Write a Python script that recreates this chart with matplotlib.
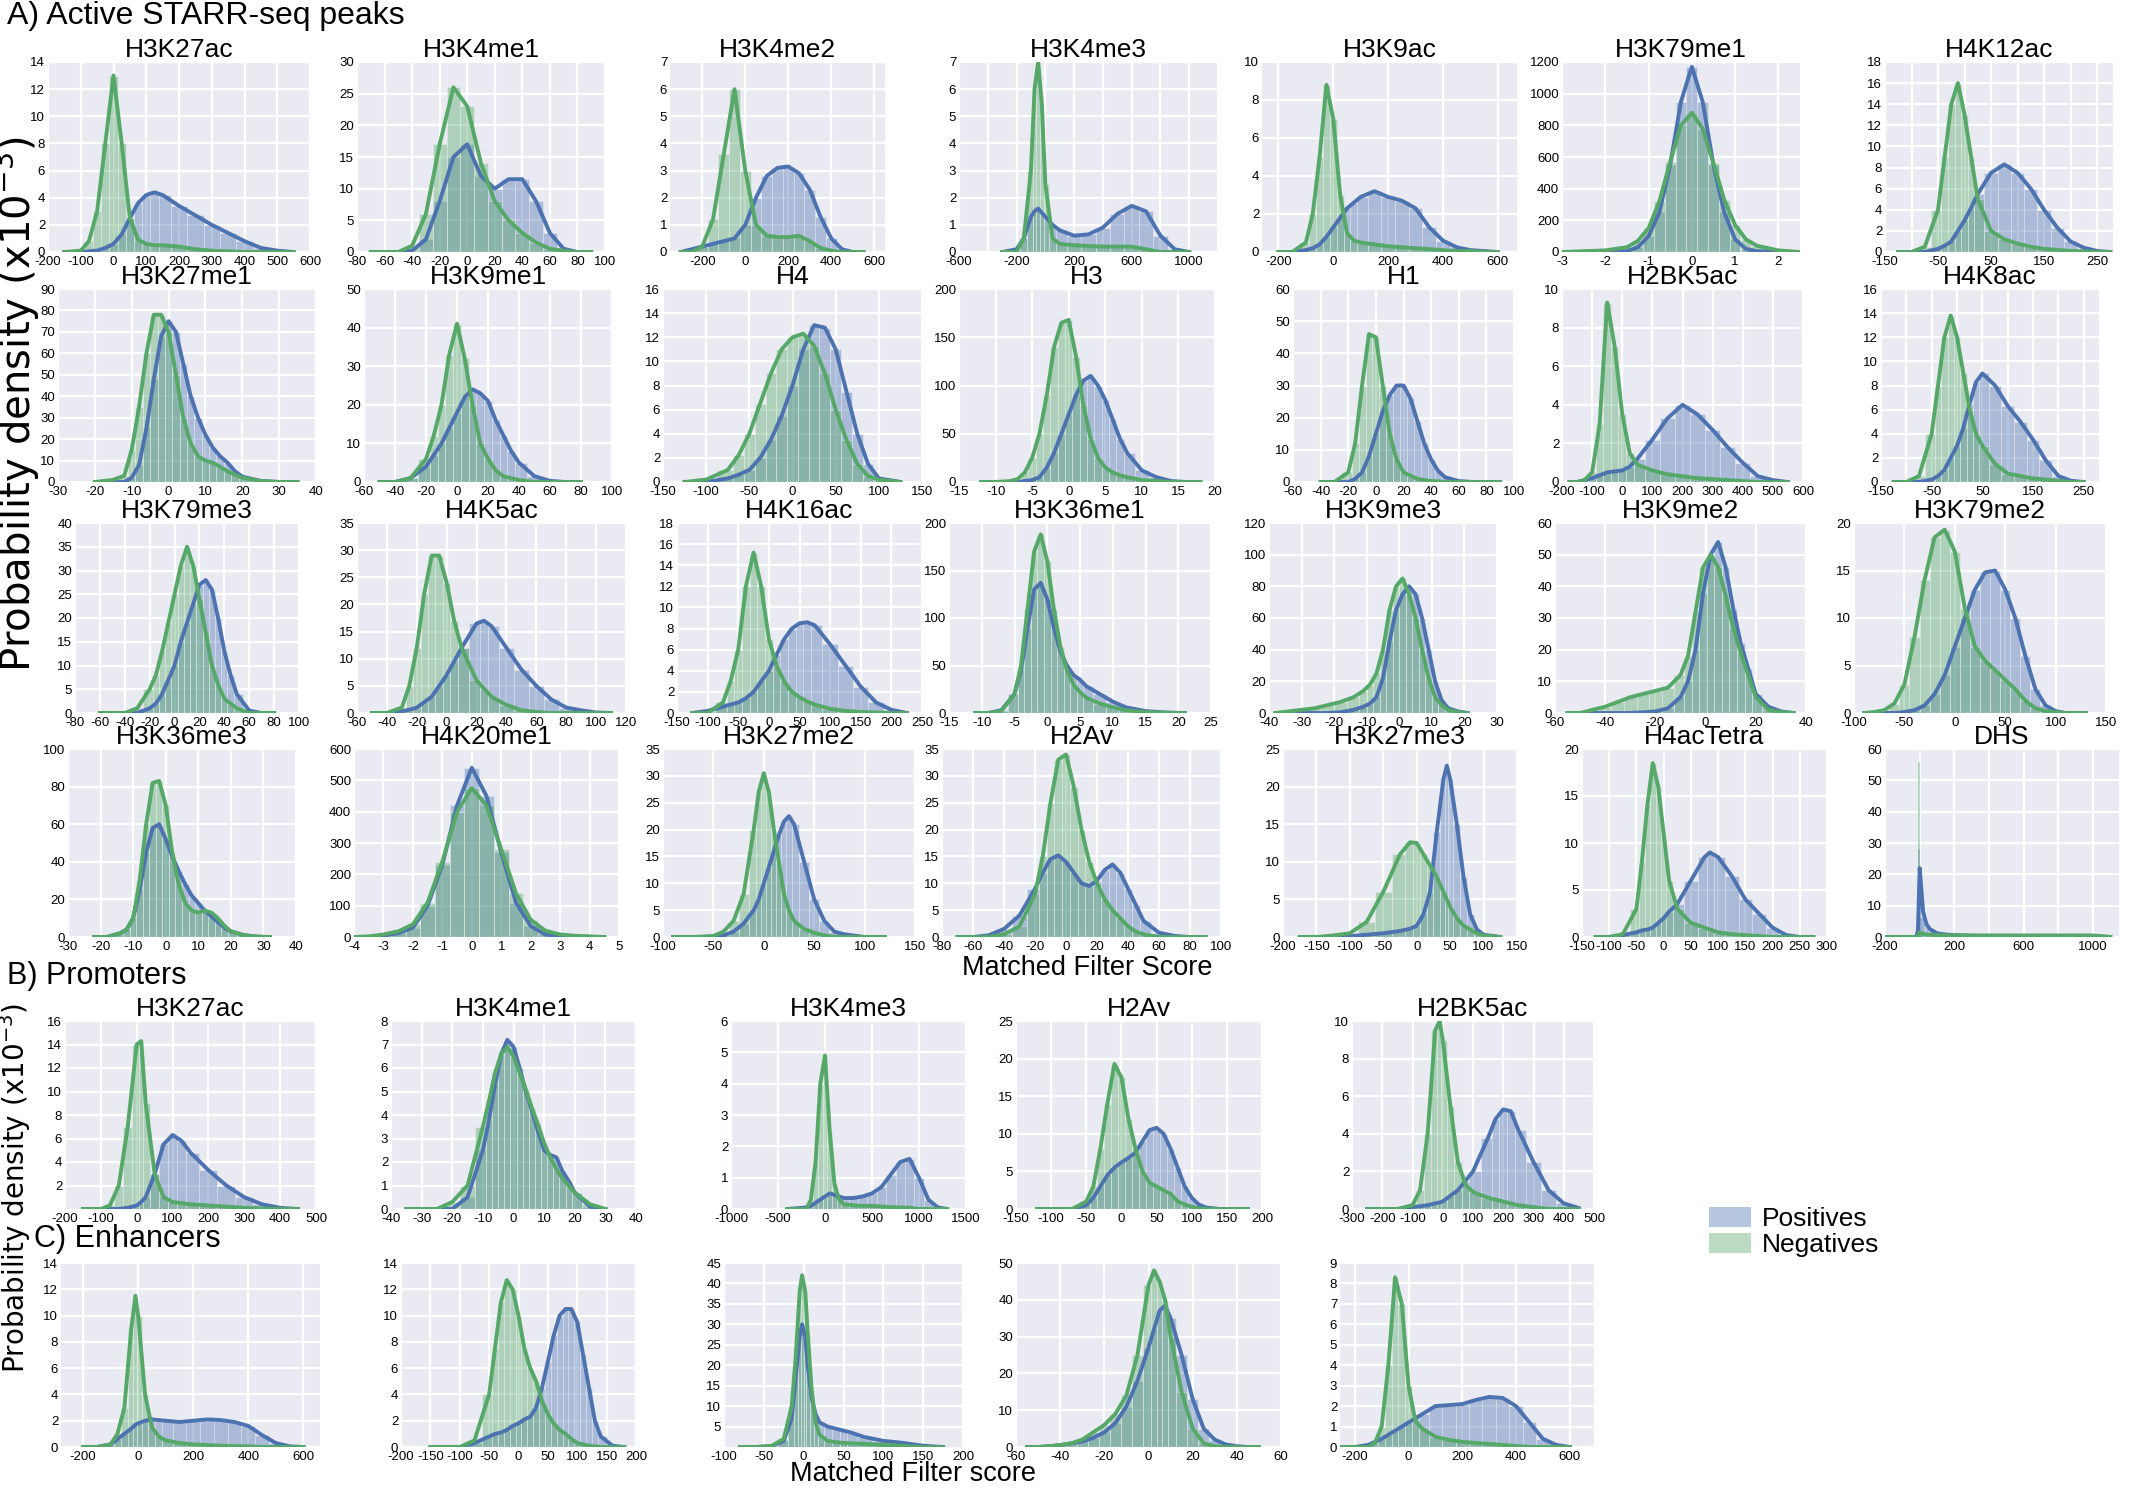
import numpy as np
import matplotlib.pyplot as plt
from matplotlib.patches import Patch

plt.rcParams['font.family'] = ['Liberation Sans Narrow', 'Liberation Sans', 'DejaVu Sans']

BLUE = '#4C72B0'
GREEN = '#55A868'
BG = '#EAEAF2'

# ---------------- A) Active STARR-seq peaks ----------------
h3k27ac_x = [-150, -100, -75, -50, -25, 0, 25, 50, 75, 100, 125, 150, 200, 250, 300, 350, 400, 450, 500, 550]
h3k27ac_pos = [0, 0, 0.05, 0.1, 0.3, 0.6, 1.3, 2.5, 3.6, 4.2, 4.4, 4.2, 3.4, 2.7, 2.0, 1.4, 0.8, 0.3, 0.1, 0]
h3k27ac_neg = [0, 0.1, 0.8, 3, 8, 13, 8, 2.5, 0.9, 0.6, 0.5, 0.5, 0.4, 0.2, 0.1, 0.05, 0, 0, 0, 0]

h3k4me1_x = [-70, -60, -50, -40, -30, -20, -10, 0, 10, 20, 30, 40, 50, 60, 70, 80, 90]
h3k4me1_pos = [0, 0, 0, 0.2, 2, 8, 15, 17, 12, 10, 11.5, 11.5, 8, 3, 0.5, 0, 0]
h3k4me1_neg = [0, 0, 0, 1, 6, 17, 26, 23, 14, 8, 5, 3, 1.5, 0.5, 0.2, 0, 0]

h3k4me2_x = [-300, -250, -200, -150, -100, -50, 0, 50, 100, 150, 200, 250, 300, 350, 400, 450, 500, 550]
h3k4me2_pos = [0, 0.1, 0.2, 0.3, 0.4, 0.5, 1.0, 2.0, 2.8, 3.1, 3.15, 2.9, 2.3, 1.3, 0.5, 0.1, 0, 0]
h3k4me2_neg = [0, 0, 0.2, 1.2, 3.6, 6, 3, 1, 0.6, 0.55, 0.55, 0.6, 0.4, 0.15, 0.05, 0, 0, 0]

h3k4me3_x = [-300, -200, -150, -100, -75, -50, -25, 0, 50, 100, 200, 300, 400, 500, 600, 700, 800, 900, 1000]
h3k4me3_pos = [0, 0.1, 0.5, 1.3, 1.5, 1.6, 1.45, 1.3, 1.0, 0.8, 0.6, 0.65, 0.9, 1.4, 1.7, 1.5, 0.6, 0.1, 0]
h3k4me3_neg = [0, 0, 0.5, 3, 6, 7, 5.5, 2.5, 0.5, 0.3, 0.25, 0.22, 0.2, 0.2, 0.2, 0.1, 0, 0, 0]

h3k9ac_x = [-200, -150, -100, -75, -50, -25, 0, 25, 50, 75, 100, 150, 200, 250, 300, 350, 400, 450, 500, 550, 600]
h3k9ac_pos = [0, 0, 0.1, 0.2, 0.4, 0.8, 1.3, 1.8, 2.3, 2.6, 2.9, 3.2, 2.9, 2.7, 2.3, 1.3, 0.6, 0.25, 0.1, 0.05, 0]
h3k9ac_neg = [0, 0, 0.5, 2, 5, 8.8, 7, 3, 1, 0.6, 0.5, 0.4, 0.3, 0.25, 0.2, 0.15, 0.1, 0.05, 0.05, 0, 0]

h3k79me1_x = [-3, -2.5, -2, -1.5, -1.25, -1, -0.75, -0.5, -0.25, 0, 0.25, 0.5, 0.75, 1, 1.25, 1.5, 2, 2.5]
h3k79me1_pos = [0, 0, 0, 5, 30, 100, 250, 550, 950, 1170, 950, 550, 250, 80, 20, 5, 0, 0]
h3k79me1_neg = [0, 5, 10, 30, 70, 150, 320, 570, 800, 880, 780, 560, 330, 170, 80, 40, 10, 0]

h4k12ac_x = [-125, -100, -75, -50, -37.5, -25, -12.5, 0, 12.5, 25, 50, 75, 100, 125, 150, 175, 200, 225, 250, 275]
h4k12ac_pos = [0, 0, 0, 0.3, 0.6, 1, 2, 3, 4.2, 5.5, 7.5, 8.3, 7.5, 6, 4, 2.3, 1, 0.4, 0.1, 0]
h4k12ac_neg = [0, 0, 0.5, 4, 9, 14, 16, 13, 9, 5, 2, 1.2, 0.8, 0.5, 0.3, 0.2, 0.1, 0.05, 0, 0]

h3k27me1_x = [-20, -15, -12, -10, -8, -6, -4, -2, 0, 2, 4, 6, 8, 10, 12, 14, 16, 18, 20, 25, 30, 35]
h3k27me1_pos = [0, 0, 0, 2, 8, 25, 48, 68, 75, 70, 55, 40, 30, 22, 16, 12, 9, 5, 2.5, 0.5, 0, 0]
h3k27me1_neg = [0, 1, 3, 15, 35, 60, 78, 78, 70, 50, 30, 18, 12, 10, 9, 7, 5, 3.5, 2, 0.5, 0, 0]

h3k9me1_x = [-50, -40, -30, -20, -15, -10, -5, 0, 5, 10, 15, 20, 25, 30, 35, 40, 50, 60, 70, 80]
h3k9me1_pos = [0, 0, 1, 4, 7, 10, 14, 18, 22, 24, 23, 21, 16, 12, 8, 5, 1.5, 0.3, 0, 0]
h3k9me1_neg = [0, 0, 1, 6, 12, 20, 33, 41, 32, 20, 10, 6, 3, 1.5, 1, 0.5, 0, 0, 0, 0]

h4_x = [-125, -100, -75, -62.5, -50, -37.5, -25, -12.5, 0, 12.5, 25, 37.5, 50, 62.5, 75, 87.5, 100, 125]
h4_pos = [0, 0, 0.3, 0.6, 1, 2, 3.5, 5.5, 8, 11, 13, 12.8, 11, 7.5, 4, 1.5, 0.3, 0]
h4_neg = [0, 0.2, 1, 2.2, 4, 6.5, 9, 11, 12, 12.3, 11.3, 9, 6, 3.5, 1.5, 0.5, 0.2, 0]

h3_x = [-12, -10, -8, -7, -6, -5, -4, -3, -2, -1, 0, 1, 2, 3, 4, 5, 6, 7, 8, 10, 12, 14, 16, 18]
h3_pos = [0, 0, 0, 0, 1, 2, 5, 15, 30, 50, 70, 90, 105, 110, 100, 85, 65, 45, 30, 12, 5, 1, 0, 0]
h3_neg = [0, 0, 1, 3, 10, 25, 50, 90, 140, 165, 168, 130, 80, 45, 25, 15, 10, 7, 5, 2, 1, 0, 0, 0]

h1_x = [-40, -30, -20, -15, -10, -5, 0, 5, 10, 15, 20, 25, 30, 35, 40, 45, 50, 60, 70, 80, 90]
h1_pos = [0, 0, 0, 1, 3, 8, 15, 22, 27, 30, 30, 26, 19, 12, 7, 3.5, 1.5, 0.3, 0, 0, 0]
h1_neg = [0, 0, 3, 12, 30, 46, 45, 30, 15, 7, 3, 2, 1, 0.6, 0.3, 0.2, 0, 0, 0, 0, 0]

h2bk5ac_x = [-175, -150, -125, -100, -75, -50, -25, 0, 25, 50, 100, 150, 200, 250, 300, 350, 400, 450, 500, 550]
h2bk5ac_pos = [0, 0, 0.1, 0.2, 0.35, 0.5, 0.55, 0.6, 0.8, 1.2, 2.2, 3.3, 4, 3.5, 2.7, 1.8, 1, 0.3, 0.1, 0]
h2bk5ac_neg = [0, 0, 0.1, 0.5, 3, 9.3, 7, 3.5, 1.5, 0.9, 0.6, 0.4, 0.3, 0.2, 0.15, 0.1, 0.05, 0, 0, 0]

h4k8ac_x = [-125, -100, -75, -50, -37.5, -25, -12.5, 0, 12.5, 25, 37.5, 50, 75, 100, 125, 150, 175, 200, 225, 250]
h4k8ac_pos = [0, 0, 0, 0.2, 0.5, 1, 2, 3, 4.5, 6.5, 8.3, 9, 8, 6.3, 5, 3.5, 1.8, 0.5, 0.1, 0]
h4k8ac_neg = [0, 0, 0.5, 4, 8, 12, 13.8, 12, 9, 6, 4, 3, 1.5, 0.7, 0.5, 0.3, 0.2, 0.1, 0, 0]

h3k79me3_x = [-60, -50, -40, -30, -20, -15, -10, -5, 0, 5, 10, 15, 20, 25, 30, 35, 40, 45, 50, 60, 70, 80]
h3k79me3_pos = [0, 0, 0, 0, 1, 2, 4, 7, 10, 15, 19, 23, 27, 28, 26, 20, 13, 8, 4, 0.5, 0, 0]
h3k79me3_neg = [0, 0, 0, 1, 5, 8, 13, 19, 25, 31, 35, 31, 24, 17, 10, 6, 3, 2, 1, 0, 0, 0]

h4k5ac_x = [-50, -40, -30, -25, -20, -15, -10, -5, 0, 5, 10, 20, 25, 30, 40, 50, 60, 70, 80, 90, 100, 110]
h4k5ac_pos = [0, 0, 0.3, 0.6, 1, 2, 3, 5, 7, 9.5, 12, 16.5, 17, 16, 12, 8, 5, 2.5, 1, 0.5, 0.1, 0]
h4k5ac_neg = [0, 0, 1, 5, 12, 22, 29, 29, 24, 17, 12, 6, 4.5, 3, 1.5, 0.5, 0.2, 0, 0, 0, 0, 0]

h4k16ac_x = [-125, -100, -75, -62.5, -50, -37.5, -25, -12.5, 0, 12.5, 25, 37.5, 50, 62.5, 75, 100, 125, 150, 175, 200, 225]
h4k16ac_pos = [0, 0.2, 0.6, 0.8, 1, 1.4, 2, 3, 4, 5.5, 7, 8, 8.5, 8.6, 8.3, 6.5, 4.5, 2.5, 1, 0.3, 0]
h4k16ac_neg = [0, 0, 1, 3, 6, 12, 15.2, 12, 7, 4.5, 3, 2, 1.5, 1.1, 0.8, 0.4, 0.2, 0.1, 0.05, 0, 0]

h3k36me1_x = [-11, -9, -7, -5, -4, -3, -2, -1, 0, 1, 2, 3, 4, 5, 6, 8, 10, 12, 15, 18, 21]
h3k36me1_pos = [0, 0, 3, 20, 45, 90, 130, 137, 120, 90, 65, 50, 40, 35, 28, 20, 12, 6, 2, 0.5, 0]
h3k36me1_neg = [0, 0, 2, 20, 50, 110, 170, 188, 160, 110, 70, 45, 30, 22, 16, 10, 6, 3, 1, 0.3, 0]

h3k9me3_x = [-38, -34, -30, -26, -22, -18, -14, -11, -9, -7, -5, -3, -1, 1, 3, 5, 7, 9, 11, 13, 15, 18, 21]
h3k9me3_pos = [0, 0, 0, 0, 0, 0.5, 2, 4, 6, 10, 22, 45, 65, 75, 80, 75, 60, 40, 20, 8, 3, 1, 0]
h3k9me3_neg = [0, 1, 2, 3, 5, 7, 10, 14, 18, 25, 40, 65, 80, 85, 75, 60, 40, 22, 10, 5, 2, 0.5, 0]

h3k9me2_x = [-55, -50, -45, -40, -35, -30, -25, -20, -15, -10, -7, -4, -1, 2, 5, 8, 11, 14, 17, 20, 25, 30, 35]
h3k9me2_pos = [0, 0, 0, 0, 0, 0, 0.2, 0.5, 1.5, 5, 10, 20, 38, 50, 54, 46, 33, 22, 14, 6, 2, 0.5, 0]
h3k9me2_neg = [0, 0, 1, 2, 3.5, 5, 6, 7, 8, 12, 18, 32, 46, 50, 46, 37, 27, 19, 12, 5, 1, 0.3, 0]

h3k79me2_x = [-90, -80, -70, -60, -50, -40, -30, -20, -10, 0, 10, 20, 30, 40, 50, 60, 70, 80, 90, 100, 110, 120, 130]
h3k79me2_pos = [0, 0, 0, 0, 0.1, 0.3, 0.8, 2, 4, 7, 10, 13, 14.8, 15, 13, 10, 6, 2.5, 0.8, 0.2, 0, 0, 0]
h3k79me2_neg = [0, 0.1, 0.3, 1, 3, 8, 14, 18.5, 19.3, 17, 11, 7, 5.5, 4.5, 3.5, 2.5, 1.3, 0.5, 0.2, 0.1, 0, 0, 0]

h3k36me3_x = [-22, -18, -14, -12, -10, -8, -6, -4, -2, 0, 2, 4, 6, 8, 10, 12, 14, 16, 18, 20, 24, 28, 32]
h3k36me3_pos = [0, 0, 2, 4, 10, 25, 45, 58, 60, 52, 43, 35, 28, 22, 18, 14, 11, 8, 5, 3, 1, 0.2, 0]
h3k36me3_neg = [0, 0, 2, 4, 10, 30, 60, 82, 83, 70, 45, 28, 18, 14, 13, 14, 13, 10, 6, 3, 1, 0.2, 0]

h4k20me1_x = [-4, -3.5, -3, -2.5, -2, -1.5, -1, -0.5, 0, 0.5, 1, 1.5, 2, 2.5, 3, 3.5, 4, 4.5]
h4k20me1_pos = [0, 0, 5, 12, 30, 100, 230, 420, 540, 450, 270, 110, 35, 8, 2, 0, 0, 0]
h4k20me1_neg = [0, 2, 8, 18, 40, 110, 240, 400, 475, 420, 280, 140, 55, 20, 8, 4, 2, 0]

h3k27me2_x = [-90, -70, -50, -40, -30, -20, -10, -5, 0, 5, 10, 15, 20, 25, 30, 40, 50, 60, 70, 80, 100, 120]
h3k27me2_pos = [0, 0, 0, 0.3, 1, 2.5, 5, 7, 10, 13, 16, 19, 21.5, 22.5, 21, 14, 7, 3, 1, 0.5, 0, 0]
h3k27me2_neg = [0, 0, 0.2, 1, 3, 8, 20, 27, 30.5, 27, 20, 14, 8, 5, 3, 1.5, 0.8, 0.3, 0, 0, 0, 0]

h2av_x = [-70, -60, -50, -40, -30, -20, -15, -10, -5, 0, 5, 10, 15, 20, 25, 30, 35, 40, 45, 50, 60, 70, 80, 90]
h2av_pos = [0, 0, 0.3, 1.5, 4, 9, 12, 14.5, 15.2, 14, 12, 10, 9.5, 10.5, 12.5, 13.5, 12, 9, 6, 3, 0.8, 0.2, 0, 0]
h2av_neg = [0, 0, 0, 0.5, 2, 8, 15, 25, 33, 34, 28, 20, 14, 10, 7, 5, 3.5, 2, 1, 0.5, 0, 0, 0, 0]

h3k27me3_x = [-175, -150, -125, -100, -75, -50, -25, -10, 0, 10, 20, 30, 40, 45, 50, 60, 70, 80, 90, 100, 125]
h3k27me3_pos = [0, 0, 0, 0.1, 0.3, 0.5, 0.8, 1.1, 1.5, 3, 6, 14, 21, 22.8, 21, 15, 8, 3, 1, 0.3, 0]
h3k27me3_neg = [0, 0, 0.2, 0.5, 2, 6, 11, 12.6, 12.5, 11, 9.5, 8, 6, 5, 4, 2.5, 1.5, 1, 0.5, 0.2, 0]

h4actetra_x = [-125, -100, -75, -50, -40, -30, -20, -10, 0, 10, 25, 50, 75, 85, 100, 125, 150, 175, 200, 225, 250, 275]
h4actetra_pos = [0, 0, 0.2, 0.5, 0.7, 0.8, 1, 1.5, 2, 2.7, 3.5, 6, 8.5, 9, 8.5, 6.5, 4, 2.5, 1, 0.2, 0, 0]
h4actetra_neg = [0, 0, 0.3, 3, 8, 14, 18.5, 16, 11, 6, 3, 1.5, 1, 0.8, 0.5, 0.3, 0.2, 0.1, 0, 0, 0, 0]

dhs_x = [-200, -50, -20, -10, 0, 10, 20, 40, 60, 100, 150, 200, 300, 400, 600, 800, 1000, 1100]
dhs_pos = [0, 0, 0, 2, 22, 15, 8, 4, 2.5, 1.2, 0.8, 0.6, 0.4, 0.3, 0.3, 0.3, 0.3, 0]
dhs_neg = [0, 0, 0, 0.5, 1.5, 1.2, 1, 0.8, 0.7, 0.6, 0.6, 0.5, 0.5, 0.5, 0.5, 0.5, 0.5, 0]
# tall single histogram bins of DHS near zero
dhs_bar_x = [-5, 10]
dhs_bar_pos = [28, 6]
dhs_bar_neg = [56, 2]

# ---------------- B) Promoters ----------------
p_h3k27ac_x = [-150, -100, -75, -50, -25, 0, 12.5, 25, 50, 75, 100, 125, 150, 200, 250, 300, 350, 400, 450]
p_h3k27ac_pos = [0, 0, 0, 0, 0.1, 0.3, 0.6, 1, 3, 5.5, 6.3, 5.8, 4.8, 3.3, 2, 1, 0.4, 0.1, 0]
p_h3k27ac_neg = [0, 0, 0.3, 2, 7, 14, 14.3, 9, 3, 1, 0.6, 0.5, 0.4, 0.3, 0.2, 0.1, 0.05, 0, 0]

p_h3k4me1_x = [-35, -30, -25, -20, -15, -10, -8, -6, -4, -2, 0, 2, 4, 6, 8, 10, 12, 14, 16, 18, 20, 25, 30]
p_h3k4me1_pos = [0, 0, 0, 0, 0.5, 2.5, 3.8, 5.3, 6.6, 7.2, 6.9, 6, 5, 4.2, 3.3, 2.5, 2.3, 2.2, 1.6, 1.2, 0.7, 0.1, 0]
p_h3k4me1_neg = [0, 0, 0, 0.3, 1, 3.5, 4.6, 5.8, 6.6, 6.9, 6.5, 5.8, 5.1, 4.3, 3.6, 2.8, 2.2, 1.7, 1.3, 1, 0.7, 0.2, 0]

p_h3k4me3_x = [-400, -200, -150, -100, -50, 0, 50, 100, 150, 200, 300, 400, 500, 600, 700, 800, 900, 1000, 1100, 1200, 1300]
p_h3k4me3_pos = [0, 0.05, 0.1, 0.2, 0.3, 0.4, 0.5, 0.45, 0.4, 0.35, 0.35, 0.4, 0.5, 0.7, 1.1, 1.5, 1.6, 1.0, 0.3, 0.05, 0]
p_h3k4me3_neg = [0, 0, 0.3, 1.5, 4, 4.9, 2.5, 0.8, 0.3, 0.15, 0.12, 0.1, 0.1, 0.08, 0.06, 0.05, 0.04, 0, 0, 0, 0]

p_h2av_x = [-120, -90, -70, -50, -40, -30, -20, -10, 0, 10, 20, 30, 40, 50, 60, 70, 80, 90, 100, 110, 120, 140, 160, 180]
p_h2av_pos = [0, 0, 0, 0.5, 1.5, 3, 4.5, 5.5, 6.2, 6.8, 7.5, 9, 10.5, 10.8, 10, 8, 5.5, 3, 1.5, 0.6, 0.2, 0, 0, 0]
p_h2av_neg = [0, 0, 0, 1, 3, 8, 14, 19.3, 17.5, 12, 8, 5, 3.5, 3, 2.5, 2, 1, 0.6, 0.3, 0.1, 0, 0, 0, 0]

p_h2bk5ac_x = [-250, -150, -100, -75, -50, -25, -10, 0, 25, 50, 75, 100, 150, 175, 200, 225, 250, 300, 350, 400, 450]
p_h2bk5ac_pos = [0, 0, 0.1, 0.15, 0.2, 0.3, 0.35, 0.4, 0.7, 1, 1.5, 2, 3.8, 4.8, 5.3, 5.2, 4.2, 2.5, 1, 0.3, 0.05]
p_h2bk5ac_neg = [0, 0, 0.2, 1, 4, 9.5, 10, 9, 5.5, 2.5, 1.3, 0.9, 0.6, 0.5, 0.4, 0.3, 0.2, 0.1, 0, 0, 0]

# ---------------- C) Enhancers ----------------
e_h3k27ac_x = [-200, -150, -100, -75, -50, -25, -10, 0, 25, 50, 75, 100, 150, 200, 250, 300, 350, 400, 450, 500, 550, 600]
e_h3k27ac_pos = [0, 0, 0.2, 0.6, 1, 1.4, 1.7, 1.8, 2.0, 2.1, 2.05, 2.0, 1.9, 2.0, 2.1, 2.05, 1.9, 1.6, 0.9, 0.3, 0.05, 0]
e_h3k27ac_neg = [0, 0, 0.2, 1, 3, 9, 11.5, 10, 4, 1.5, 0.8, 0.5, 0.3, 0.2, 0.15, 0.1, 0.07, 0.05, 0, 0, 0, 0]

e_h3k4me1_x = [-150, -100, -75, -50, -40, -30, -20, -10, 0, 10, 20, 30, 40, 50, 60, 70, 80, 90, 100, 110, 120, 130, 140, 160, 180]
e_h3k4me1_pos = [0, 0, 0.3, 0.8, 1, 1.1, 1.3, 1.6, 1.8, 2.1, 2.3, 3, 4.5, 6.5, 8.5, 10, 10.5, 10.5, 9.5, 7, 4.5, 2, 0.8, 0.1, 0]
e_h3k4me1_neg = [0, 0, 0.5, 4, 7.5, 11, 12.7, 12, 10, 7.5, 6, 5, 3.5, 2.5, 1.8, 1.3, 1, 0.6, 0.3, 0.2, 0.1, 0.05, 0, 0, 0]

e_h3k4me3_x = [-80, -60, -40, -25, -15, -10, -5, -2, 2, 5, 10, 15, 20, 30, 40, 50, 60, 75, 100, 125, 150, 175]
e_h3k4me3_pos = [0, 0, 0.2, 1.5, 7, 17, 27, 30, 27, 20, 12, 8, 6, 5, 4.5, 4, 3.5, 2.5, 1.5, 1, 0.3, 0]
e_h3k4me3_neg = [0, 0, 0.3, 2, 10, 22, 38, 42, 38, 28, 14, 6, 3, 1.5, 1.2, 1, 0.9, 0.8, 0.5, 0.3, 0, 0]

e_h2av_x = [-55, -50, -45, -40, -35, -30, -25, -20, -15, -10, -5, 0, 2.5, 5, 7.5, 10, 15, 20, 25, 30, 35, 40, 45, 50]
e_h2av_pos = [0, 0, 0.2, 0.5, 1, 1.5, 2.5, 4, 6.5, 11, 18, 27, 32, 37, 38.5, 35, 25, 13, 5, 2, 0.7, 0.2, 0, 0]
e_h2av_neg = [0, 0, 0.2, 0.5, 1, 2, 4, 6, 9, 14, 25, 44, 48, 45, 40, 30, 15, 5, 1, 0.2, 0, 0, 0, 0]

e_h2bk5ac_x = [-250, -200, -150, -125, -100, -75, -50, -25, 0, 25, 50, 100, 150, 200, 250, 300, 350, 400, 450, 500, 550, 600]
e_h2bk5ac_pos = [0, 0, 0.1, 0.25, 0.4, 0.6, 0.8, 1.0, 1.2, 1.4, 1.6, 2.0, 2.05, 2.1, 2.3, 2.45, 2.4, 2.0, 1.2, 0.4, 0.1, 0]
e_h2bk5ac_neg = [0, 0, 0, 0.2, 1, 4, 8.3, 7, 3, 1.3, 0.9, 0.5, 0.35, 0.25, 0.2, 0.15, 0.1, 0.05, 0, 0, 0, 0]

# panel: title, x, pos, neg, xlim, xticks, labelled xticks, ylim, yticks
row1 = [
    ('H3K27ac', h3k27ac_x, h3k27ac_pos, h3k27ac_neg, (-200, 600), np.arange(-200, 601, 100), None, (0, 14), np.arange(0, 15, 2)),
    ('H3K4me1', h3k4me1_x, h3k4me1_pos, h3k4me1_neg, (-80, 100), np.arange(-80, 101, 20), None, (0, 30), np.arange(0, 31, 5)),
    ('H3K4me2', h3k4me2_x, h3k4me2_pos, h3k4me2_neg, (-350, 650), np.arange(-400, 801, 200), None, (0, 7), np.arange(0, 8, 1)),
    ('H3K4me3', h3k4me3_x, h3k4me3_pos, h3k4me3_neg, (-600, 1200), np.arange(-600, 1201, 200), [-600, -200, 200, 600, 1000], (0, 7), np.arange(0, 8, 1)),
    ('H3K9ac', h3k9ac_x, h3k9ac_pos, h3k9ac_neg, (-260, 670), np.arange(-200, 601, 200), None, (0, 10), np.arange(0, 11, 2)),
    ('H3K79me1', h3k79me1_x, h3k79me1_pos, h3k79me1_neg, (-3, 2.5), np.arange(-3, 4, 1), None, (0, 1200), np.arange(0, 1201, 200)),
    ('H4K12ac', h4k12ac_x, h4k12ac_pos, h4k12ac_neg, (-150, 280), np.arange(-150, 251, 50), [-150, -50, 50, 150, 250], (0, 18), np.arange(0, 19, 2)),
]
row2 = [
    ('H3K27me1', h3k27me1_x, h3k27me1_pos, h3k27me1_neg, (-30, 40), np.arange(-30, 41, 10), None, (0, 90), np.arange(0, 91, 10)),
    ('H3K9me1', h3k9me1_x, h3k9me1_pos, h3k9me1_neg, (-60, 100), np.arange(-60, 101, 20), None, (0, 50), np.arange(0, 51, 10)),
    ('H4', h4_x, h4_pos, h4_neg, (-150, 150), np.arange(-150, 151, 50), None, (0, 16), np.arange(0, 17, 2)),
    ('H3', h3_x, h3_pos, h3_neg, (-15, 20), np.arange(-15, 21, 5), None, (0, 200), np.arange(0, 201, 50)),
    ('H1', h1_x, h1_pos, h1_neg, (-60, 100), np.arange(-60, 101, 20), None, (0, 60), np.arange(0, 61, 10)),
    ('H2BK5ac', h2bk5ac_x, h2bk5ac_pos, h2bk5ac_neg, (-200, 600), np.arange(-200, 601, 100), None, (0, 10), np.arange(0, 11, 2)),
    ('H4K8ac', h4k8ac_x, h4k8ac_pos, h4k8ac_neg, (-150, 280), np.arange(-150, 251, 50), [-150, -50, 50, 150, 250], (0, 16), np.arange(0, 17, 2)),
]
row3 = [
    ('H3K79me3', h3k79me3_x, h3k79me3_pos, h3k79me3_neg, (-80, 100), np.arange(-80, 101, 20), None, (0, 40), np.arange(0, 41, 5)),
    ('H4K5ac', h4k5ac_x, h4k5ac_pos, h4k5ac_neg, (-60, 120), np.arange(-60, 121, 20), None, (0, 35), np.arange(0, 36, 5)),
    ('H4K16ac', h4k16ac_x, h4k16ac_pos, h4k16ac_neg, (-150, 250), np.arange(-150, 251, 50), None, (0, 18), np.arange(0, 19, 2)),
    ('H3K36me1', h3k36me1_x, h3k36me1_pos, h3k36me1_neg, (-15, 25), np.arange(-15, 26, 5), None, (0, 200), np.arange(0, 201, 50)),
    ('H3K9me3', h3k9me3_x, h3k9me3_pos, h3k9me3_neg, (-40, 30), np.arange(-40, 31, 10), None, (0, 120), np.arange(0, 121, 20)),
    ('H3K9me2', h3k9me2_x, h3k9me2_pos, h3k9me2_neg, (-60, 40), np.arange(-60, 41, 20), None, (0, 60), np.arange(0, 61, 10)),
    ('H3K79me2', h3k79me2_x, h3k79me2_pos, h3k79me2_neg, (-100, 150), np.arange(-100, 151, 50), None, (0, 20), np.arange(0, 21, 5)),
]
row4 = [
    ('H3K36me3', h3k36me3_x, h3k36me3_pos, h3k36me3_neg, (-30, 40), np.arange(-30, 41, 10), None, (0, 100), np.arange(0, 101, 20)),
    ('H4K20me1', h4k20me1_x, h4k20me1_pos, h4k20me1_neg, (-4, 5), np.arange(-4, 6, 1), None, (0, 600), np.arange(0, 601, 100)),
    ('H3K27me2', h3k27me2_x, h3k27me2_pos, h3k27me2_neg, (-100, 150), np.arange(-100, 151, 50), None, (0, 35), np.arange(0, 36, 5)),
    ('H2Av', h2av_x, h2av_pos, h2av_neg, (-80, 100), np.arange(-80, 101, 20), None, (0, 35), np.arange(0, 36, 5)),
    ('H3K27me3', h3k27me3_x, h3k27me3_pos, h3k27me3_neg, (-200, 150), np.arange(-200, 151, 50), None, (0, 25), np.arange(0, 26, 5)),
    ('H4acTetra', h4actetra_x, h4actetra_pos, h4actetra_neg, (-150, 300), np.arange(-150, 301, 50), None, (0, 20), np.arange(0, 21, 5)),
    ('DHS', dhs_x, dhs_pos, dhs_neg, (-200, 1150), np.arange(-200, 1001, 200), [-200, 200, 600, 1000], (0, 60), np.arange(0, 61, 10)),
]
rowB = [
    ('H3K27ac', p_h3k27ac_x, p_h3k27ac_pos, p_h3k27ac_neg, (-200, 500), np.arange(-200, 501, 100), None, (0, 16), np.arange(2, 17, 2)),
    ('H3K4me1', p_h3k4me1_x, p_h3k4me1_pos, p_h3k4me1_neg, (-40, 40), np.arange(-40, 41, 10), None, (0, 8), np.arange(0, 9, 1)),
    ('H3K4me3', p_h3k4me3_x, p_h3k4me3_pos, p_h3k4me3_neg, (-1000, 1500), np.arange(-1000, 1501, 500), None, (0, 6), np.arange(0, 7, 1)),
    ('H2Av', p_h2av_x, p_h2av_pos, p_h2av_neg, (-150, 200), np.arange(-150, 201, 50), None, (0, 25), np.arange(0, 26, 5)),
    ('H2BK5ac', p_h2bk5ac_x, p_h2bk5ac_pos, p_h2bk5ac_neg, (-300, 500), np.arange(-300, 501, 100), None, (0, 10), np.arange(0, 11, 2)),
]
rowC = [
    ('', e_h3k27ac_x, e_h3k27ac_pos, e_h3k27ac_neg, (-280, 660), np.arange(-200, 601, 200), None, (0, 14), np.arange(0, 15, 2)),
    ('', e_h3k4me1_x, e_h3k4me1_pos, e_h3k4me1_neg, (-200, 200), np.arange(-200, 201, 50), None, (0, 14), np.arange(0, 15, 2)),
    ('', e_h3k4me3_x, e_h3k4me3_pos, e_h3k4me3_neg, (-100, 200), np.arange(-100, 201, 50), None, (0, 45), np.arange(5, 46, 5)),
    ('', e_h2av_x, e_h2av_pos, e_h2av_neg, (-60, 60), np.arange(-60, 61, 20), None, (0, 50), np.arange(0, 51, 10)),
    ('', e_h2bk5ac_x, e_h2bk5ac_pos, e_h2bk5ac_neg, (-255, 690), np.arange(-200, 601, 200), None, (0, 9), np.arange(0, 10, 1)),
]

# pixel boxes (left, right) per row and (top, bottom) per row
cols1 = [(48, 310), (357, 605), (670, 885), (959, 1218), (1262, 1517), (1562, 1800), (1885, 2113)]
cols2 = [(58, 316), (364, 612), (663, 922), (959, 1215), (1293, 1514), (1562, 1803), (1881, 2099)]
cols3 = [(75, 299), (357, 626), (677, 922), (949, 1211), (1269, 1497), (1555, 1806), (1854, 2106)]
cols4 = [(68, 296), (354, 619), (663, 915), (942, 1221), (1283, 1517), (1582, 1827), (1885, 2119)]
colsB = [(65, 316), (391, 636), (731, 966), (1016, 1262), (1352, 1594)]
colsC = [(61, 320), (401, 636), (724, 963), (1016, 1281), (1340, 1594)]

W, H = 2130, 1489
fig = plt.figure(figsize=(W / 100, H / 100), dpi=100)


def fmt(v):
    return ('%g' % v).replace('\u2212', '-')


def draw(box, spec, extra_bars=None):
    (l, r), (t, b) = box
    title, x, pos, neg, xlim, xticks, xlab, ylim, yticks = spec
    ax = fig.add_axes([l / W, 1 - b / H, (r - l) / W, (b - t) / H])
    ax.set_facecolor(BG)
    for s in ax.spines.values():
        s.set_visible(False)
    ax.set_axisbelow(True)
    ax.grid(True, color='white', lw=1.6)

    xs = np.asarray(x, float)
    edges = np.concatenate([[xs[0] - (xs[1] - xs[0]) / 2], (xs[:-1] + xs[1:]) / 2,
                            [xs[-1] + (xs[-1] - xs[-2]) / 2]])
    ax.bar(edges[:-1], pos, width=np.diff(edges), align='edge', color=BLUE, alpha=0.4,
           edgecolor='white', linewidth=0.5)
    ax.bar(edges[:-1], neg, width=np.diff(edges), align='edge', color=GREEN, alpha=0.4,
           edgecolor='white', linewidth=0.5)
    if extra_bars is not None:
        bx, bp, bn = extra_bars
        ax.bar(bx, bp, width=14, color=BLUE, alpha=0.4, linewidth=0)
        ax.bar(bx, bn, width=14, color=GREEN, alpha=0.4, linewidth=0)
    ax.plot(xs, pos, color=BLUE, lw=2.8, solid_joinstyle='round')
    ax.plot(xs, neg, color=GREEN, lw=2.8, solid_joinstyle='round')

    ax.set_xticks(xticks)
    labs = [fmt(v) if (xlab is None or v in xlab) else '' for v in xticks]
    ax.set_xticklabels(labs)
    ax.set_yticks(yticks)
    ax.set_yticklabels([fmt(v) for v in yticks])
    ax.set_xlim(*xlim)
    ax.set_ylim(*ylim)
    ax.tick_params(length=0, labelsize=9.5, pad=2)
    ax.tick_params(axis='x', pad=3)
    if title:
        ax.set_title(title, fontsize=19, pad=3)
    return ax


rowsA = [(row1, cols1, (62, 252)), (row2, cols2, (289, 482)), (row3, cols3, (523, 713)), (row4, cols4, (749, 937))]
for specs, cols, tb in rowsA:
    for spec, lr in zip(specs, cols):
        extra = (dhs_bar_x, dhs_bar_pos, dhs_bar_neg) if spec[0] == 'DHS' else None
        draw((lr, tb), spec, extra)

for spec, lr in zip(rowB, colsB):
    draw((lr, (1021, 1209)), spec)
for spec, lr in zip(rowC, colsC):
    draw((lr, (1263, 1447)), spec)

# figure texts
fig.text(7 / W, 1 - 16 / H, 'A) Active STARR-seq peaks', fontsize=23, va='center', ha='left')
fig.text(7 / W, 1 - 976 / H, 'B) Promoters', fontsize=22, va='center', ha='left')
fig.text(34 / W, 1 - 1239 / H, 'C) Enhancers', fontsize=22, va='center', ha='left')
fig.text(1087 / W, 1 - 968 / H, 'Matched Filter Score', fontsize=19.5, va='center', ha='center')
fig.text(913 / W, 1 - 1474 / H, 'Matched Filter score', fontsize=19.5, va='center', ha='center')
fig.text(17 / W, 1 - 404 / H, 'Probability density (x10$^{-3}$)', fontsize=29, rotation=90,
         va='center', ha='center', family='DejaVu Sans')
fig.text(15 / W, 1 - 1188 / H, 'Probability density (x10$^{-3}$)', fontsize=20, rotation=90,
         va='center', ha='center', family='DejaVu Sans')

handles = [Patch(facecolor=BLUE, alpha=0.4, edgecolor='none', label='Positives'),
           Patch(facecolor=GREEN, alpha=0.4, edgecolor='none', label='Negatives')]
fig.legend(handles=handles, loc='upper left', bbox_to_anchor=(1709 / W, 1 - 1207 / H),
           frameon=False, fontsize=19, handlelength=1.6, handleheight=0.8,
           handletextpad=0.4, labelspacing=0.05, borderpad=0, borderaxespad=0)

fig.savefig('out.png', dpi=100)
